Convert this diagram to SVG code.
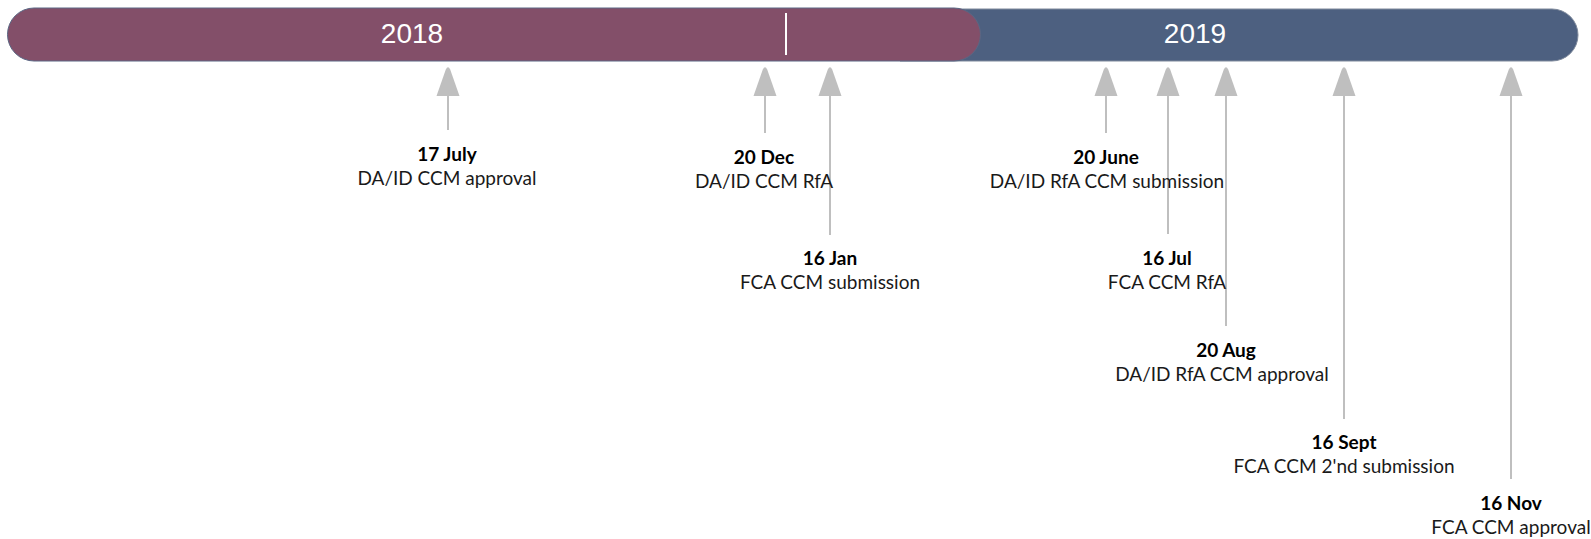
<svg xmlns="http://www.w3.org/2000/svg" width="1591" height="539" viewBox="0 0 1591 539">
  <style>
    .year { font-family: "Liberation Sans", Arial, sans-serif; font-size: 28px; fill: #FFFFFF; text-anchor: middle; }
    .date { font-family: Lato, "Open Sans", sans-serif; font-size: 19px; font-weight: bold; fill: #000000; text-anchor: middle; }
    .desc { font-family: Lato, "Open Sans", sans-serif; font-size: 19px; fill: #1A1A1A; text-anchor: middle; }
    .stem { stroke: #BFBFBF; stroke-width: 2; fill: none; }
    .head { fill: #BFBFBF; }
  </style>
  <defs>
    <!-- upward arrowhead, base centred on the origin -->
    <path id="arrowHead" class="head" d="M -11.5,0 L -2.2,-26.5 Q 0,-31 2.2,-26.5 L 11.5,0 Z"/>
  </defs>

  <!-- year bands -->
  <g id="band-2019">
    <path d="M 900,9 H 1552 A 26,26 0 0 1 1552,61 H 900 Z" fill="#4D6080" stroke="#7E899B" stroke-width="1"/>
    <text class="year" x="1195" y="43">2019</text>
  </g>
  <g id="band-2018">
    <path d="M 34,8 H 954 A 26.5,26.5 0 0 1 954,61 H 34 A 26.5,26.5 0 0 1 34,8 Z" fill="#834F69" stroke="#5A6784" stroke-width="1"/>
    <text class="year" x="412" y="43">2018</text>
    <line x1="786" y1="13" x2="786" y2="55" stroke="#FFFFFF" stroke-width="2"/>
  </g>

  <!-- milestone pointers -->
  <g id="connectors">
    <line class="stem" x1="448" y1="94" x2="448" y2="130"/>
    <use href="#arrowHead" x="448" y="96"/>
    <line class="stem" x1="765" y1="94" x2="765" y2="133"/>
    <use href="#arrowHead" x="765" y="96"/>
    <line class="stem" x1="830" y1="94" x2="830" y2="235"/>
    <use href="#arrowHead" x="830" y="96"/>
    <line class="stem" x1="1106" y1="94" x2="1106" y2="133"/>
    <use href="#arrowHead" x="1106" y="96"/>
    <line class="stem" x1="1168" y1="94" x2="1168" y2="234"/>
    <use href="#arrowHead" x="1168" y="96"/>
    <line class="stem" x1="1226" y1="94" x2="1226" y2="326"/>
    <use href="#arrowHead" x="1226" y="96"/>
    <line class="stem" x1="1344" y1="94" x2="1344" y2="419"/>
    <use href="#arrowHead" x="1344" y="96"/>
    <line class="stem" x1="1511" y1="94" x2="1511" y2="479"/>
    <use href="#arrowHead" x="1511" y="96"/>
  </g>

  <!-- milestone labels -->
  <g id="m-17-july">
    <text class="date" x="447" y="161">17 July</text>
    <text class="desc" x="447" y="185">DA/ID CCM approval</text>
  </g>
  <g id="m-20-dec">
    <text class="date" x="764" y="164">20 Dec</text>
    <text class="desc" x="764" y="188">DA/ID CCM RfA</text>
  </g>
  <g id="m-16-jan">
    <text class="date" x="830" y="265">16 Jan</text>
    <text class="desc" x="830" y="289">FCA CCM submission</text>
  </g>
  <g id="m-20-june">
    <text class="date" x="1106" y="164">20 June</text>
    <text class="desc" x="1107" y="188">DA/ID RfA CCM submission</text>
  </g>
  <g id="m-16-jul">
    <text class="date" x="1167" y="265">16 Jul</text>
    <text class="desc" x="1167" y="289">FCA CCM RfA</text>
  </g>
  <g id="m-20-aug">
    <text class="date" x="1226" y="357">20 Aug</text>
    <text class="desc" x="1222" y="381">DA/ID RfA CCM approval</text>
  </g>
  <g id="m-16-sept">
    <text class="date" x="1344" y="449">16 Sept</text>
    <text class="desc" x="1344" y="473">FCA CCM 2'nd submission</text>
  </g>
  <g id="m-16-nov">
    <text class="date" x="1511" y="510">16 Nov</text>
    <text class="desc" x="1511" y="534">FCA CCM approval</text>
  </g>
</svg>
